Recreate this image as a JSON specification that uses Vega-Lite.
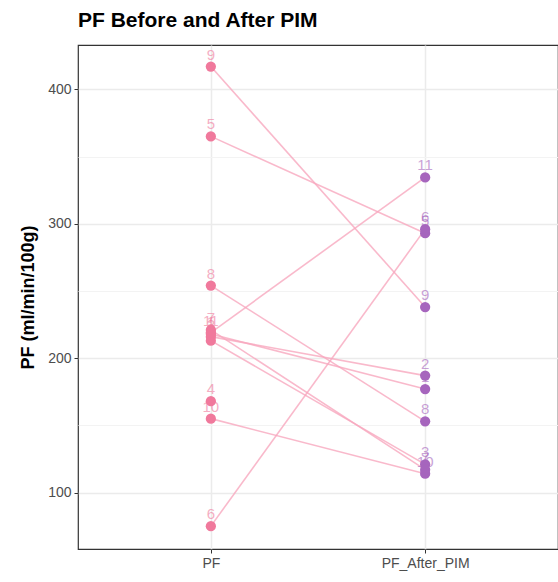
{
  "$schema": "https://vega.github.io/schema/vega-lite/v6.json",
  "autosize": {"type": "none"},
  "width": 480,
  "height": 504,
  "padding": {"left": 78, "top": 45, "right": 0, "bottom": 33},
  "background": "white",
  "config": {
    "font": "Liberation Sans Narrow, Liberation Sans, Arial",
    "view": {"stroke": "#333333", "strokeWidth": 1.2}
  },
  "title": {
    "text": "PF Before and After PIM",
    "anchor": "start",
    "frame": "group",
    "fontSize": 21,
    "fontWeight": "bold",
    "color": "#000000",
    "offset": 14
  },
  "data": {
    "values": [
      {"id": "1", "time": "PF", "value": 218},
      {"id": "2", "time": "PF", "value": 216},
      {"id": "3", "time": "PF", "value": 213},
      {"id": "4", "time": "PF", "value": 168},
      {"id": "5", "time": "PF", "value": 365},
      {"id": "6", "time": "PF", "value": 75},
      {"id": "7", "time": "PF", "value": 221},
      {"id": "8", "time": "PF", "value": 254},
      {"id": "9", "time": "PF", "value": 417},
      {"id": "10", "time": "PF", "value": 155},
      {"id": "11", "time": "PF", "value": 219},
      {"id": "1", "time": "PF_After_PIM", "value": 177},
      {"id": "2", "time": "PF_After_PIM", "value": 187},
      {"id": "3", "time": "PF_After_PIM", "value": 121},
      {"id": "5", "time": "PF_After_PIM", "value": 293},
      {"id": "6", "time": "PF_After_PIM", "value": 296},
      {"id": "7", "time": "PF_After_PIM", "value": 117},
      {"id": "8", "time": "PF_After_PIM", "value": 153},
      {"id": "9", "time": "PF_After_PIM", "value": 238},
      {"id": "10", "time": "PF_After_PIM", "value": 114},
      {"id": "11", "time": "PF_After_PIM", "value": 334.5}
    ]
  },
  "encoding": {
    "x": {
      "field": "time",
      "type": "nominal",
      "sort": ["PF", "PF_After_PIM"],
      "scale": {"type": "point", "padding": 0.62},
      "axis": {
        "title": null,
        "labelAngle": 0,
        "labelFontSize": 14,
        "labelColor": "#4D4D4D",
        "labelPadding": 3,
        "tickColor": "#333333",
        "tickSize": 4,
        "domain": false,
        "grid": true,
        "gridColor": "#EBEBEB",
        "gridWidth": 1.5
      }
    },
    "y": {
      "field": "value",
      "type": "quantitative",
      "scale": {"domain": [58, 433], "nice": false, "zero": false},
      "axis": {
        "title": "PF (ml/min/100g)",
        "titleFontSize": 18,
        "titleFontWeight": "bold",
        "titleColor": "#000000",
        "titlePadding": 10,
        "values": [100, 150, 200, 250, 300, 350, 400],
        "labelExpr": "datum.value % 100 == 0 ? datum.label : ''",
        "labelFontSize": 14,
        "labelColor": "#4D4D4D",
        "labelPadding": 3,
        "tickSize": 4,
        "tickColor": {"condition": {"test": "datum.value % 100 == 0", "value": "#333333"}, "value": "transparent"},
        "domain": false,
        "grid": true,
        "gridColor": {"condition": {"test": "datum.value % 100 == 0", "value": "#EBEBEB"}, "value": "#F3F3F3"},
        "gridWidth": {"condition": {"test": "datum.value % 100 == 0", "value": 1.5}, "value": 1}
      }
    }
  },
  "layer": [
    {
      "mark": {"type": "line", "color": "#F7A8BE", "strokeWidth": 1.6, "opacity": 0.8},
      "encoding": {"detail": {"field": "id"}}
    },
    {
      "mark": {"type": "text", "dy": -12, "fontSize": 15, "opacity": 0.6},
      "encoding": {
        "text": {"field": "id"},
        "color": {"field": "time", "type": "nominal", "scale": {"domain": ["PF", "PF_After_PIM"], "range": ["#F0799C", "#A665BD"]}, "legend": null}
      }
    },
    {
      "mark": {"type": "circle", "size": 105, "opacity": 1},
      "encoding": {
        "color": {"field": "time", "type": "nominal", "scale": {"domain": ["PF", "PF_After_PIM"], "range": ["#F0799C", "#A665BD"]}, "legend": null}
      }
    }
  ]
}
